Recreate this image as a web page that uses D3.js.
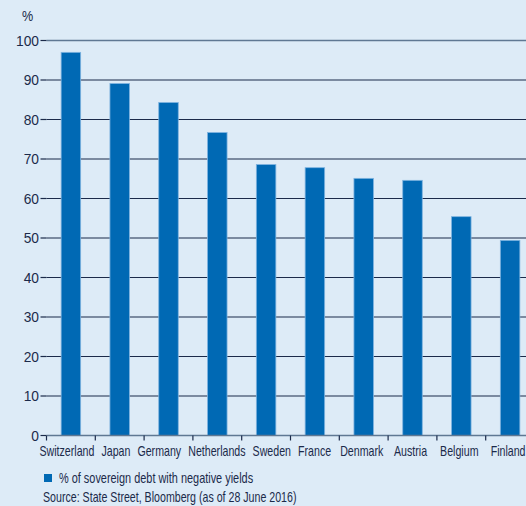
<!DOCTYPE html>
<html><head><meta charset="utf-8">
<script src="https://cdn.jsdelivr.net/npm/d3@7"></script>
<style>
html,body{margin:0;padding:0;background:#ddebf7;}
svg{display:block;}
text{font-family:"Liberation Sans",Arial,sans-serif;fill:#1b2a4a;}
</style></head>
<body>
<script>
const categories = ["Switzerland","Japan","Germany","Netherlands","Sweden","France","Denmark","Austria","Belgium","Finland"];
const values = [97.0, 89.1, 84.3, 76.7, 68.6, 67.8, 65.1, 64.6, 55.4, 49.4];
const yTicks = [0,10,20,30,40,50,60,70,80,90,100];
const seriesName = "% of sovereign debt with negative yields";
const sourceText = "Source: State Street, Bloomberg (as of 28 June 2016)";

const W = 526, H = 506;
const svg = d3.select("body").append("svg").attr("width", W).attr("height", H);
svg.append("rect").attr("width", W).attr("height", H).attr("fill", "#ddebf7");

const x0 = 46.5, bandW = 48.8;
const x = d3.scaleBand().domain(categories).range([x0, x0 + bandW * categories.length]).paddingInner(0.6).paddingOuter(0.3);
const y = d3.scaleLinear().domain([0, 100]).range([435.5, 40.5]);

function ctext(sel, px, py, sx) {
  return sel.attr("transform", (d, i) => `translate(${typeof px === "function" ? px(d, i) : px},${typeof py === "function" ? py(d, i) : py}) scale(${sx},1)`);
}

// gridlines
svg.append("g").selectAll("line").data(yTicks.filter(d => d > 0)).join("line")
  .attr("x1", x0).attr("x2", W).attr("y1", d => y(d)).attr("y2", d => y(d))
  .attr("stroke", d => d === 100 ? "#5f7893" : "#1b2a4a").attr("stroke-width", d => d === 100 ? 1.5 : 1.2);

// y axis labels and ticks
const yAxis = svg.append("g");
yAxis.selectAll("line").data(yTicks).join("line")
  .attr("x1", x0 - 6).attr("x2", x0).attr("y1", d => y(d)).attr("y2", d => y(d))
  .attr("stroke", "#1b2a4a").attr("stroke-width", 1.2);
ctext(yAxis.selectAll("text").data(yTicks).join("text"), 39, d => y(d), 0.92)
  .attr("dy", "0.36em").attr("text-anchor", "end")
  .attr("font-size", 15).text(d => d);
ctext(svg.append("text"), 22, 21, 0.9).attr("font-size", 14).text("%");

// bars
svg.append("g").selectAll("rect").data(categories).join("rect")
  .attr("x", d => x(d)).attr("width", x.bandwidth())
  .attr("y", (d, i) => y(values[i])).attr("height", (d, i) => y(0) - y(values[i]))
  .attr("fill", "#0069b4").attr("stroke", "#7fb4e0").attr("stroke-width", 0.8);

// x axis
svg.append("line").attr("x1", x0).attr("x2", W).attr("y1", y(0)).attr("y2", y(0))
  .attr("stroke", "#5f7893").attr("stroke-width", 1.5);
const ticksX = d3.range(categories.length + 1).map(i => x0 + i * bandW);
svg.append("g").selectAll("line").data(ticksX).join("line")
  .attr("x1", d => d).attr("x2", d => d).attr("y1", y(0)).attr("y2", y(0) + 5)
  .attr("stroke", "#1b2a4a").attr("stroke-width", 1.2);

// category labels with simple overlap relaxation
const sxLab = 0.76, gap = 7;
const labs = svg.append("g").selectAll("text").data(categories).join("text")
  .attr("text-anchor", "middle").attr("font-size", 14).text(d => d);
const widths = labs.nodes().map(n => n.getComputedTextLength() * sxLab);
const pos = categories.map(d => x(d) + x.bandwidth() / 2 - 2);
for (let it = 0; it < 300; it++) {
  for (let i = 0; i < pos.length - 1; i++) {
    const ov = (pos[i] + widths[i] / 2 + gap) - (pos[i + 1] - widths[i + 1] / 2);
    if (ov > 0) { pos[i] -= ov / 2; pos[i + 1] += ov / 2; }
  }
}
ctext(labs, (d, i) => pos[i], 455.5, sxLab);

// legend
svg.append("rect").attr("x", 44).attr("y", 474).attr("width", 8).attr("height", 8).attr("fill", "#0069b4");
ctext(svg.append("text"), 59, 483, 0.78).attr("font-size", 14).text(seriesName);
ctext(svg.append("text"), 43, 501.5, 0.76).attr("font-size", 14).text(sourceText);
</script>
</body></html>
